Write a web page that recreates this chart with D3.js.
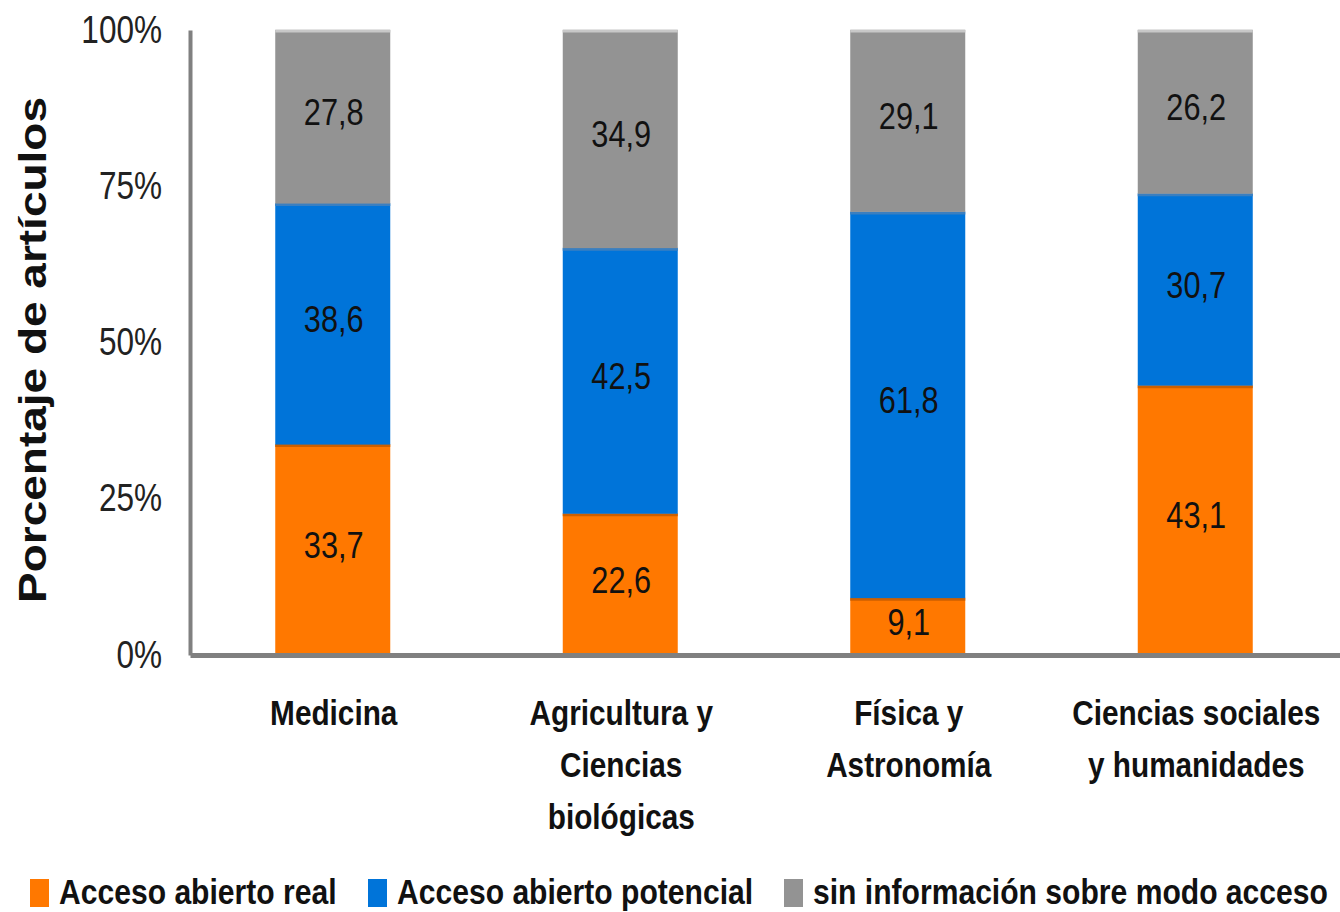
<!DOCTYPE html>
<html>
<head>
<meta charset="utf-8">
<script src="https://cdn.jsdelivr.net/npm/d3@7"></script>
<style>
  body { margin: 0; background: #fff; }
  text { font-family: "Liberation Sans", Arial, sans-serif; }
</style>
</head>
<body>
<script>
var svgWidth = 1340;
var svgHeight = 912;

var margin = { top: 30, right: 0, bottom: 257, left: 190 };

// the source picture is squeezed sideways, so text gets a horizontal squeeze too
var squeeze = 0.83;
var squeezeBold = 0.85;
var squeezeLegend = 0.86;

// categories (each label split into lines)
var categories = ["Medicina", "Agricultura y Ciencias biológicas", "Física y Astronomía", "Ciencias sociales y humanidades"];
var categoryLines = [
  ["Medicina"],
  ["Agricultura y", "Ciencias", "biológicas"],
  ["Física y", "Astronomía"],
  ["Ciencias sociales", "y humanidades"]
];

var seriesNames = ["Acceso abierto real", "Acceso abierto potencial", "sin información sobre modo acceso"];
var realValues = [33.7, 22.6, 9.1, 43.1];
var potencialValues = [38.6, 42.5, 61.8, 30.7];
var sinInfoValues = [27.8, 34.9, 29.1, 26.2];
var colors = ["#ff7800", "#0074d9", "#939393"];
var edgeColors = ["#cc5f00", "#3a7fc0", "#c8c8c8"];

var tickValues = [0, 0.25, 0.5, 0.75, 1];

var chartWidth = svgWidth - margin.left - margin.right;
var chartHeight = svgHeight - margin.top - margin.bottom;

var tableData = categories.map(function(c, i) {
  return { cat: c, s0: realValues[i], s1: potencialValues[i], s2: sinInfoValues[i] };
});

var stack = d3.stack()
  .keys(["s0", "s1", "s2"])
  .offset(d3.stackOffsetExpand);
var stacked = stack(tableData);

var svg = d3.select("body")
  .append("svg")
  .attr("width", svgWidth)
  .attr("height", svgHeight);

var chartGroup = svg.append("g")
  .attr("transform", `translate(${margin.left}, ${margin.top})`);

var xScale = d3.scaleBand()
  .domain(categories)
  .range([0, chartWidth])
  .paddingInner(0.6)
  .paddingOuter(0.3);

var yScale = d3.scaleLinear()
  .domain([0, 1])
  .range([chartHeight, 0]);

// bars
var layers = chartGroup.selectAll(".layer")
  .data(stacked)
  .enter()
  .append("g")
  .attr("class", "layer")
  .attr("fill", (d, i) => colors[i]);

layers.selectAll("rect")
  .data(d => d)
  .enter()
  .append("rect")
  .attr("x", d => xScale(d.data.cat) - 1)
  .attr("y", d => yScale(d[1]))
  .attr("width", xScale.bandwidth())
  .attr("height", d => yScale(d[0]) - yScale(d[1]));

// thin darker line on top of each segment
layers.each(function(layer, i) {
  d3.select(this).selectAll("line")
    .data(layer)
    .enter()
    .append("line")
    .attr("x1", d => xScale(d.data.cat) - 1)
    .attr("x2", d => xScale(d.data.cat) - 1 + xScale.bandwidth())
    .attr("y1", d => yScale(d[1]) + 1)
    .attr("y2", d => yScale(d[1]) + 1)
    .attr("stroke", edgeColors[i])
    .attr("stroke-width", 3);
});

// value labels
layers.each(function(layer, i) {
  d3.select(this).selectAll("text")
    .data(layer)
    .enter()
    .append("text")
    .attr("transform", d => `translate(${xScale(d.data.cat) + xScale.bandwidth() / 2}, ${(yScale(d[0]) + yScale(d[1])) / 2}) scale(${squeeze},1)`)
    .attr("dy", "0.22em")
    .attr("text-anchor", "middle")
    .attr("fill", "#111")
    .style("font-size", "37px")
    .text(d => d3.format(".1f")(d.data["s" + i]).replace(".", ","));
});

// y axis
var yAxis = d3.axisLeft(yScale)
  .tickValues(tickValues)
  .tickSize(0)
  .tickFormat(d3.format(".0%"));

var yAxisG = chartGroup.append("g").call(yAxis);
yAxisG.select(".domain").attr("stroke", "#808080").attr("stroke-width", 4);
yAxisG.selectAll("text")
  .attr("x", 0)
  .attr("transform", `translate(-28,0) scale(${squeeze},1)`)
  .style("font-size", "38px")
  .attr("fill", "#222");

// x axis
var xAxisG = chartGroup.append("g")
  .attr("transform", `translate(0, ${chartHeight})`)
  .call(d3.axisBottom(xScale).tickSize(0).tickFormat(""));
xAxisG.select(".domain").attr("stroke", "#808080").attr("stroke-width", 5);

// category labels
categories.forEach(function(c, i) {
  var t = chartGroup.append("text")
    .attr("transform", `translate(${xScale(c) + xScale.bandwidth() / 2}, ${chartHeight + 70}) scale(${squeezeBold},1)`)
    .attr("text-anchor", "middle")
    .attr("fill", "#111")
    .style("font-size", "35px")
    .style("font-weight", "bold");
  categoryLines[i].forEach(function(line, j) {
    t.append("tspan")
      .attr("x", 0)
      .attr("dy", j == 0 ? 0 : 52)
      .text(line);
  });
});

// y title
svg.append("text")
  .attr("transform", `translate(46, 350) scale(${squeezeBold},1) rotate(-90)`)
  .attr("text-anchor", "middle")
  .attr("fill", "#111")
  .style("font-size", "46px")
  .style("font-weight", "bold")
  .text("Porcentaje de artículos");

// legend
var legendX = [30, 368, 784];
var legend = svg.append("g");
seriesNames.forEach(function(name, i) {
  legend.append("rect")
    .attr("x", legendX[i])
    .attr("y", 879)
    .attr("width", 19)
    .attr("height", 28)
    .attr("fill", colors[i]);
  legend.append("text")
    .attr("transform", `translate(${legendX[i] + 29}, 904) scale(${squeezeLegend},1)`)
    .attr("fill", "#111")
    .style("font-size", "35px")
    .style("font-weight", "bold")
    .text(name);
});
</script>
</body>
</html>
